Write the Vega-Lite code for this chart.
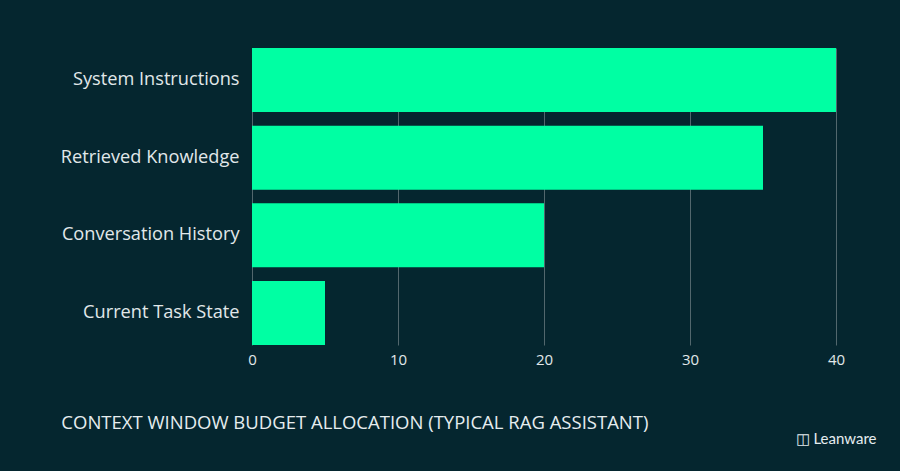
{
  "$schema": "https://vega.github.io/schema/vega-lite/v6.json",
  "autosize": "none",
  "width": 584,
  "height": 297,
  "padding": {"left": 252, "top": 48, "right": 64, "bottom": 126},
  "background": "#05262f",
  "data": {
    "values": [
      {"component": "System Instructions", "share": 40},
      {"component": "Retrieved Knowledge", "share": 35},
      {"component": "Conversation History", "share": 20},
      {"component": "Current Task State", "share": 5}
    ]
  },
  "title": {
    "text": "CONTEXT WINDOW BUDGET ALLOCATION (TYPICAL RAG ASSISTANT)",
    "orient": "bottom",
    "anchor": "start",
    "frame": "bounds",
    "offset": 0,
    "dy": -32,
    "dx": 1,
    "font": "Open Sans",
    "fontSize": 18.5,
    "fontWeight": "normal",
    "color": "#e6edef"
  },
  "mark": {"type": "bar", "color": "#00ffa3"},
  "encoding": {
    "y": {
      "field": "component",
      "type": "nominal",
      "sort": null,
      "scale": {"paddingInner": 0.176, "paddingOuter": 0},
      "axis": {
        "title": null,
        "domain": false,
        "ticks": false,
        "labelPadding": 13,
        "labelFont": "Open Sans",
        "labelFontSize": 18.2,
        "labelColor": "#e1e8ea",
        "grid": false
      }
    },
    "x": {
      "field": "share",
      "type": "quantitative",
      "scale": {"domain": [0, 40], "nice": false},
      "axis": {
        "values": [0, 10, 20, 30, 40],
        "title": "◫ Leanware",
        "titleFont": "Lato",
        "titleFontSize": 15,
        "titleFontWeight": "normal",
        "titleColor": "#e6edef",
        "titleAnchor": "end",
        "titleAlign": "right",
        "titleX": 624,
        "titleY": 86,
        "domain": false,
        "ticks": false,
        "labelFlush": false,
        "labelPadding": 7,
        "labelFont": "Open Sans",
        "labelFontSize": 15,
        "labelColor": "#e1e8ea",
        "grid": true,
        "gridColor": "#52676d",
        "gridWidth": 1
      }
    }
  },
  "config": {"view": {"stroke": null}}
}
